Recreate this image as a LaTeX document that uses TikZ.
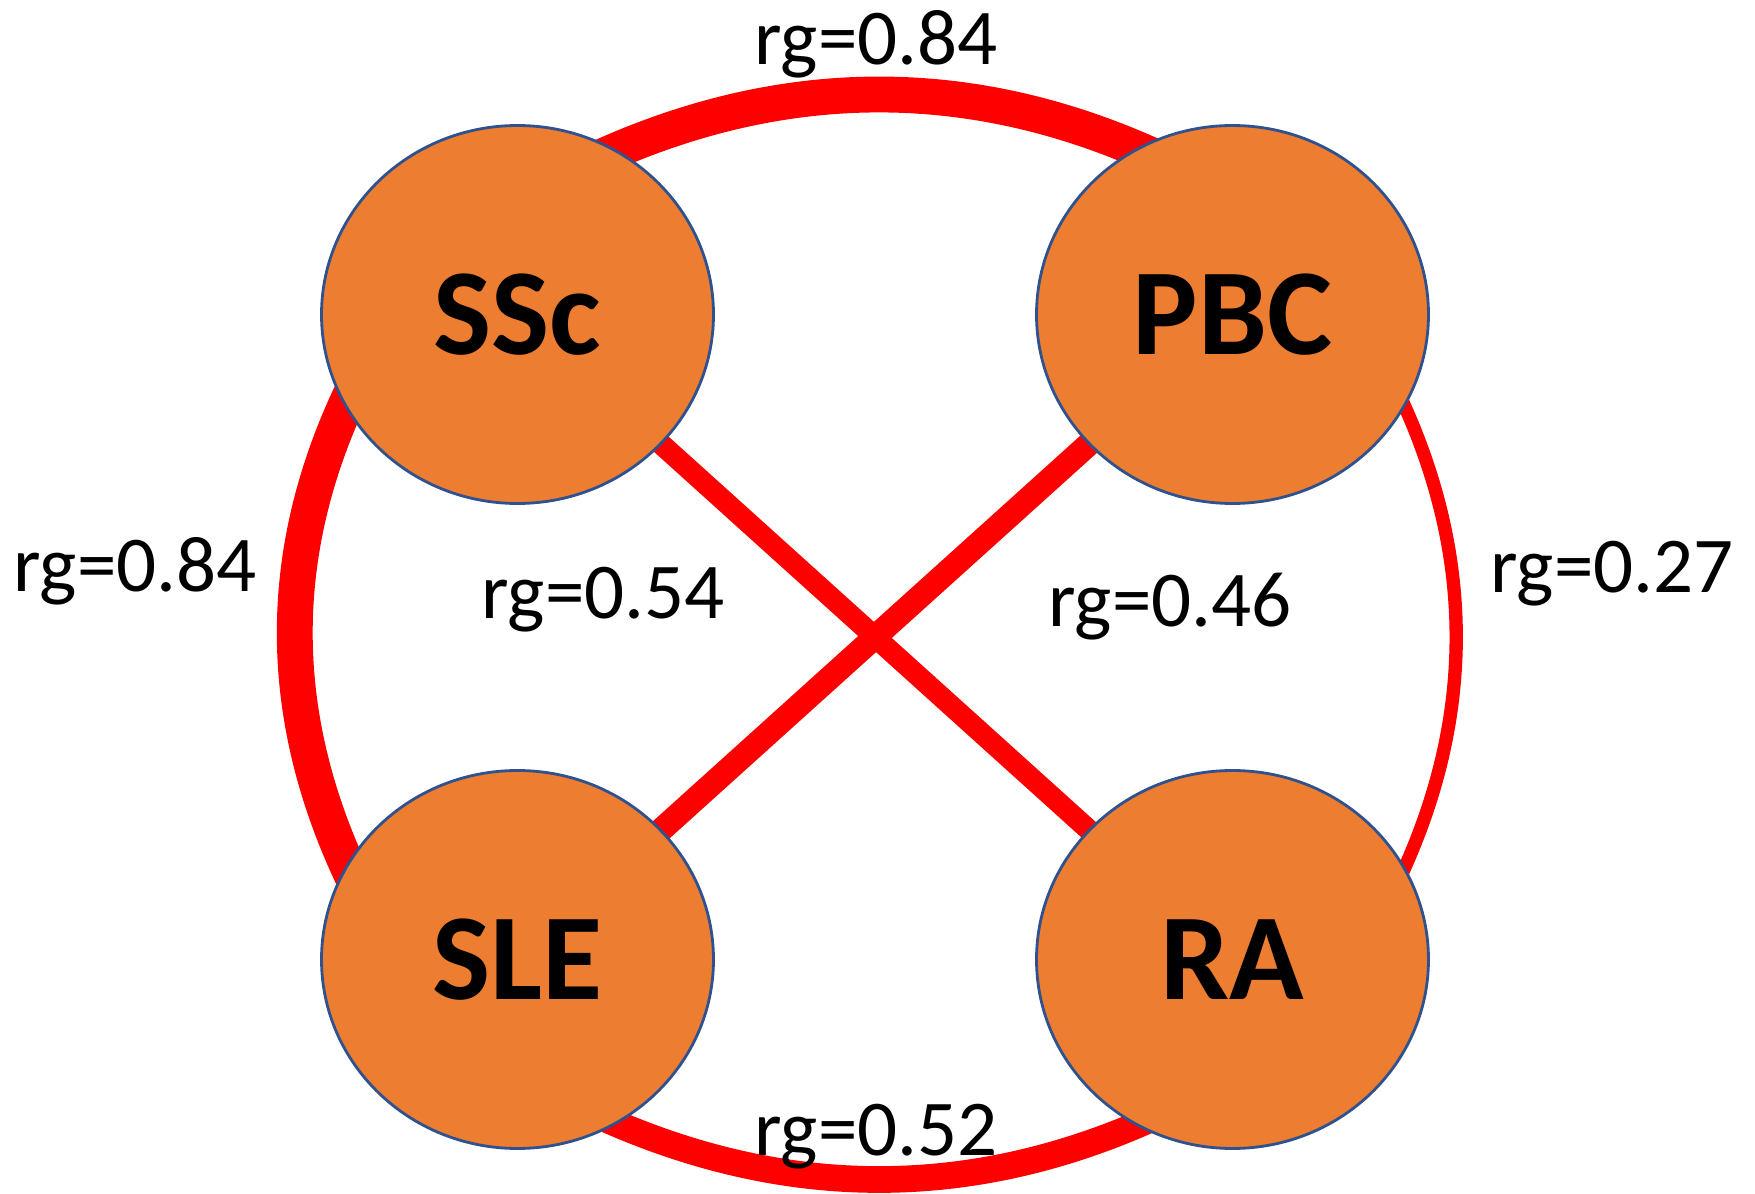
\documentclass[tikz,border=0pt]{standalone}
\usepackage{fontspec}
\setmainfont{Carlito}
\usetikzlibrary{shapes.geometric,backgrounds}
\definecolor{nodeorange}{HTML}{ED7D31}
\definecolor{nodeblue}{HTML}{2F528F}

\begin{document}
\begin{tikzpicture}[x=0.1mm, y=0.1mm,
  disease/.style={ellipse, draw=nodeblue, line width=0.8pt, fill=nodeorange,
    minimum width=39.2mm, minimum height=37.8mm, inner sep=0pt,
    font=\fontsize{35}{40}\selectfont\bfseries},
  rglabel/.style={anchor=base, font=\fontsize{22.5}{26}\selectfont},
  rgline/.style={draw=red, line width=#1, shorten <=-8pt, shorten >=-8pt}]

\useasboundingbox (0,0) rectangle (1755,1193);

\node[disease] (SSc) at (517.5,878.5) {SSc};
\node[disease] (PBC) at (1232.5,878.5) {PBC};
\node[disease] (SLE) at (517.5,233.5) {SLE};
\node[disease] (RA) at (1232.5,233.5) {RA};

\begin{scope}[on background layer]
% outer ring
\draw[rgline=10.2pt] (SSc.59.4) to[out=25, in=155, looseness=0.89] (PBC.120.6);
\draw[rgline=10.2pt] (SSc.208.75) to[out=243.6, in=116.4, looseness=0.9] (SLE.151.25);
\draw[rgline=3.8pt] (PBC.-28.75) to[out=-63.6, in=63.6, looseness=0.9] (RA.28.75);
\draw[rgline=7.6pt] (SLE.-59.4) to[out=-25, in=-155, looseness=0.89] (RA.-120.6);
% diagonals
\draw[rgline=6pt] (SSc) -- (RA);
\draw[rgline=6.8pt] (PBC) -- (SLE);
\end{scope}

\node[rglabel] (rgTop) at (876,1128) {rg=0.84};
\node[rglabel] (rgLeft) at (135,601) {rg=0.84};
\node[rglabel] (rgRight) at (1612,600) {rg=0.27};
\node[rglabel] (rgBottom) at (876,38) {rg=0.52};
\node[rglabel] (rgCrossL) at (603,574) {rg=0.54};
\node[rglabel] (rgCrossR) at (1170,566) {rg=0.46};

\end{tikzpicture}
\end{document}
